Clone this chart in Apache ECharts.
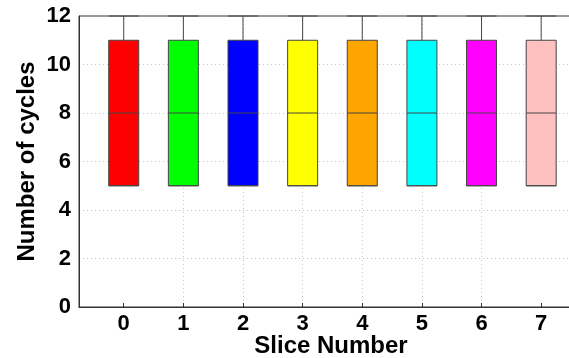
<!DOCTYPE html>
<html>
<head>
<meta charset="utf-8">
<script src="https://cdn.jsdelivr.net/npm/echarts@6/dist/echarts.min.js"></script>
<style>
html,body{margin:0;padding:0;background:#fff;}
#chart{width:569px;height:358px;}
</style>
</head>
<body>
<div id="chart"></div>
<script>
// Data
var slices = [0, 1, 2, 3, 4, 5, 6, 7];
var whiskerLow = [5, 5, 5, 5, 5, 5, 5, 5];
var q1 = [5, 5, 5, 5, 5, 5, 5, 5];
var median = [8, 8, 8, 8, 8, 8, 8, 8];
var q3 = [11, 11, 11, 11, 11, 11, 11, 11];
var whiskerHigh = [12, 12, 12, 12, 12, 12, 12, 12];
var yTicks = [0, 2, 4, 6, 8, 10, 12];
var xTitle = 'Slice Number';
var yTitle = 'Number of cycles';
// Styles
var boxColors = ['#ff0000', '#00ff00', '#0000ff', '#ffff00', '#ffa500', '#00ffff', '#ff00ff', '#ffc0c0'];

var boxData = slices.map(function (s, i) {
  return {
    value: [s, whiskerLow[i], q1[i], median[i], q3[i], whiskerHigh[i]],
    itemStyle: { color: boxColors[i] }
  };
});

var font = '"Liberation Sans", Arial, Helvetica, sans-serif';
var chart = echarts.init(document.getElementById('chart'), null, { renderer: 'canvas' });
chart.setOption({
  animation: false,
  backgroundColor: '#ffffff',
  grid: {
    left: 79, right: -2, top: 16, bottom: 51,
    outerBoundsMode: 'none',
    containLabel: false,
    show: true, borderColor: '#333', borderWidth: 1, backgroundColor: 'transparent'
  },
  xAxis: {
    type: 'value',
    min: -0.75,
    max: 7.5,
    name: xTitle,
    nameLocation: 'middle',
    nameGap: 27,
    nameMoveOverlap: false,
    nameTextStyle: { fontFamily: font, fontWeight: 'bold', fontSize: 24, color: '#000', padding: [0, 0, 0, 12] },
    axisLine: { show: true, onZero: false, lineStyle: { color: '#333', width: 1 } },
    axisTick: { show: true, inside: true, length: 4, lineStyle: { color: '#333' }, customValues: slices },
    axisLabel: { fontFamily: font, fontWeight: 'bold', fontSize: 22, color: '#000', margin: 6, customValues: slices },
    splitLine: { show: true, showMinLine: false, showMaxLine: false, lineStyle: { color: '#c8c8c8', type: [1, 3], width: 1 } }
  },
  yAxis: {
    type: 'value',
    min: 0,
    max: 12,
    interval: 2,
    name: yTitle,
    nameLocation: 'middle',
    nameGap: 40,
    nameMoveOverlap: false,
    nameTextStyle: { fontFamily: font, fontWeight: 'bold', fontSize: 24, color: '#000' },
    axisLine: { show: true, onZero: false, lineStyle: { color: '#333', width: 1 } },
    axisTick: { show: false },
    axisLabel: { fontFamily: font, fontWeight: 'bold', fontSize: 22, color: '#000', margin: 8 },
    splitLine: { show: true, showMinLine: false, showMaxLine: false, lineStyle: { color: '#c8c8c8', type: [1, 3], width: 1 } }
  },
  series: [{
    type: 'boxplot',
    boxWidth: [30, 30],
    itemStyle: { borderColor: '#444', borderWidth: 1 },
    emphasis: { disabled: true },
    data: boxData
  }]
});
</script>
</body>
</html>
